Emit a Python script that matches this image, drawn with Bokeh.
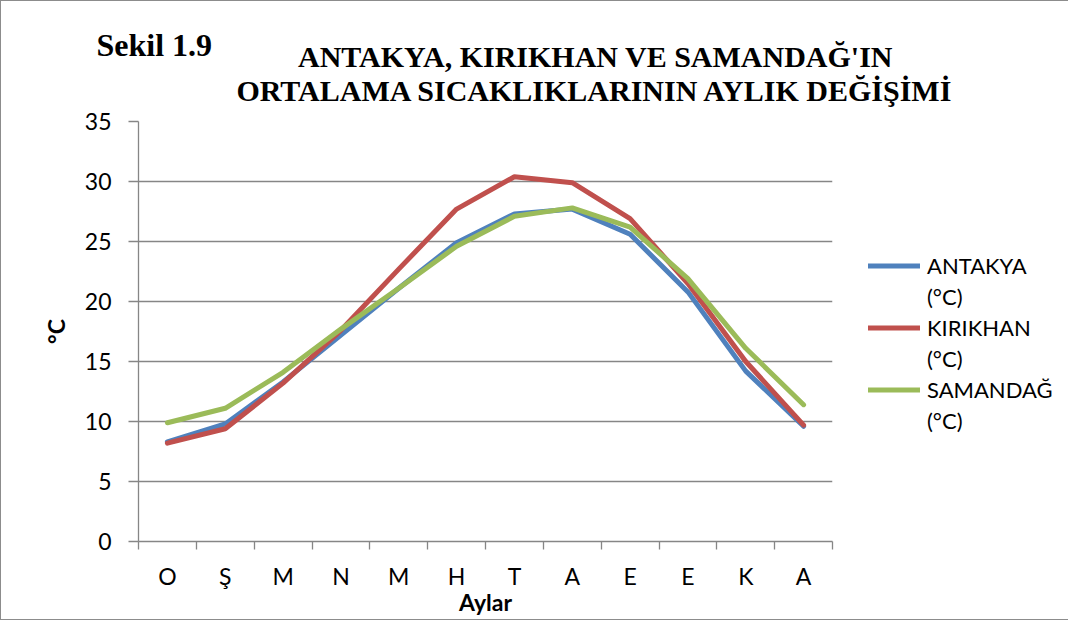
from bokeh.plotting import figure
from bokeh.models import Range1d, FixedTicker, Label, Legend, LegendItem
from bokeh.embed import file_html
from bokeh.resources import INLINE

months = ["O", "Ş", "M", "N", "M", "H", "T", "A", "E", "E", "K", "A"]
antakya = [8.3, 9.8, 13.3, 17.2, 21.1, 24.9, 27.3, 27.7, 25.6, 20.8, 14.2, 9.6]
kirikhan = [8.2, 9.4, 13.2, 17.6, 22.7, 27.7, 30.4, 29.9, 26.9, 21.5, 15.0, 9.7]
samandag = [9.9, 11.1, 14.1, 17.7, 21.1, 24.6, 27.1, 27.8, 26.2, 21.9, 16.1, 11.4]
series_names = ["ANTAKYA", "KIRIKHAN", "SAMANDAĞ"]
unit = "(°C)"
y_ticks = [0, 5, 10, 15, 20, 25, 30, 35]
colors = ["#4F81BD", "#C0504D", "#9BBB59"]

FONT = "Lato"
GRID = "#868686"
W, H = 1064, 618
FL, FT, FW, FH = 137, 120, 694, 420

xs = [i + 0.5 for i in range(len(months))]

p = figure(frame_width=FW, frame_height=FH,
           min_border_left=FL, min_border_right=W - FL - FW,
           min_border_top=FT, min_border_bottom=H - FT - FH,
           x_range=Range1d(0, len(months)), y_range=Range1d(0, 35),
           output_backend="svg", toolbar_location=None,
           background_fill_color="white", border_fill_color="white")
p.outline_line_color = None
p.styles = {"border": "1px solid #8c8c8c"}

renderers = []
for vals, col in zip([antakya, kirikhan, samandag], colors):
    r = p.line(xs, vals, line_color=col, line_width=5,
               line_join="round", line_cap="round")
    renderers.append(r)

# x axis
xa = p.xaxis[0]
xa.ticker = FixedTicker(ticks=xs, minor_ticks=list(range(len(months) + 1)))
xa.major_label_overrides = {x: m for x, m in zip(xs, months)}
xa.major_tick_line_color = None
xa.major_tick_out = 0
xa.major_tick_in = 0
xa.minor_tick_out = 8
xa.minor_tick_in = 0
xa.minor_tick_line_color = GRID
xa.minor_tick_line_width = 1.3
xa.axis_line_color = GRID
xa.axis_line_width = 1.3
xa.major_label_standoff = 12
xa.major_label_text_font = FONT
xa.major_label_text_font_size = "23px"
xa.major_label_text_color = "black"
xa.axis_label = "Aylar"
xa.axis_label_text_font = FONT
xa.axis_label_text_font_style = "bold"
xa.axis_label_text_font_size = "23px"
xa.axis_label_text_color = "black"
xa.axis_label_standoff = -5

# y axis
ya = p.yaxis[0]
ya.ticker = FixedTicker(ticks=y_ticks, minor_ticks=[])
ya.major_tick_out = 10
ya.major_tick_in = 0
ya.major_tick_line_color = GRID
ya.major_tick_line_width = 1.3
ya.minor_tick_line_color = None
ya.axis_line_color = GRID
ya.axis_line_width = 1.3
ya.major_label_standoff = 17
ya.major_label_text_font = FONT
ya.major_label_text_font_size = "23px"
ya.major_label_text_color = "black"
ya.axis_label = "°C"
ya.axis_label_text_font = FONT
ya.axis_label_text_font_style = "bold"
ya.axis_label_text_font_size = "23px"
ya.axis_label_text_color = "black"
ya.axis_label_standoff = 12

p.xgrid.grid_line_color = None
p.ygrid.ticker = FixedTicker(ticks=y_ticks)
p.ygrid.grid_line_color = GRID
p.ygrid.grid_line_width = 1.3


# canvas-pixel -> data helpers (frame: x 137..831, y 120..540)
def dx(px):
    return (px - FL) / (FW / len(months))


def dy(py):
    return (FT + FH - py) / (FH / 35)


title_kw = dict(text_font="Liberation Serif", text_font_style="bold",
                text_baseline="alphabetic", text_color="black")
p.add_layout(Label(x=dx(95), y=dy(43), text="Sekil 1.9", text_align="left",
                   text_font_size="32px", **title_kw), "above")
p.add_layout(Label(x=dx(594), y=dy(55), text="ANTAKYA, KIRIKHAN VE SAMANDAĞ'IN",
                   text_align="center", text_font_size="30px", **title_kw), "above")
p.add_layout(Label(x=dx(594), y=dy(89), text="ORTALAMA SICAKLIKLARININ AYLIK DEĞİŞİMİ",
                   text_align="center", text_font_size="30px", **title_kw), "above")

# legend: name line with the series glyph, unit line with an invisible glyph
dummy = p.line([], [], line_alpha=0)
items = []
for name, r in zip(series_names, renderers):
    items.append(LegendItem(label=name, renderers=[r]))
    items.append(LegendItem(label=unit, renderers=[dummy]))

ITEM_H = 31
legend = Legend(items=items, glyph_width=52, glyph_height=ITEM_H, spacing=0,
                label_standoff=7, label_height=ITEM_H, padding=0, margin=0,
                border_line_color=None, background_fill_alpha=0,
                label_text_font=FONT, label_text_font_size="22px",
                label_text_color="black",
                location=(867 - (FL + FW), FT + FH - (264 - ITEM_H / 2 + 6 * ITEM_H)))
p.add_layout(legend, "right")

open("out.html", "w").write(file_html(p, INLINE))
